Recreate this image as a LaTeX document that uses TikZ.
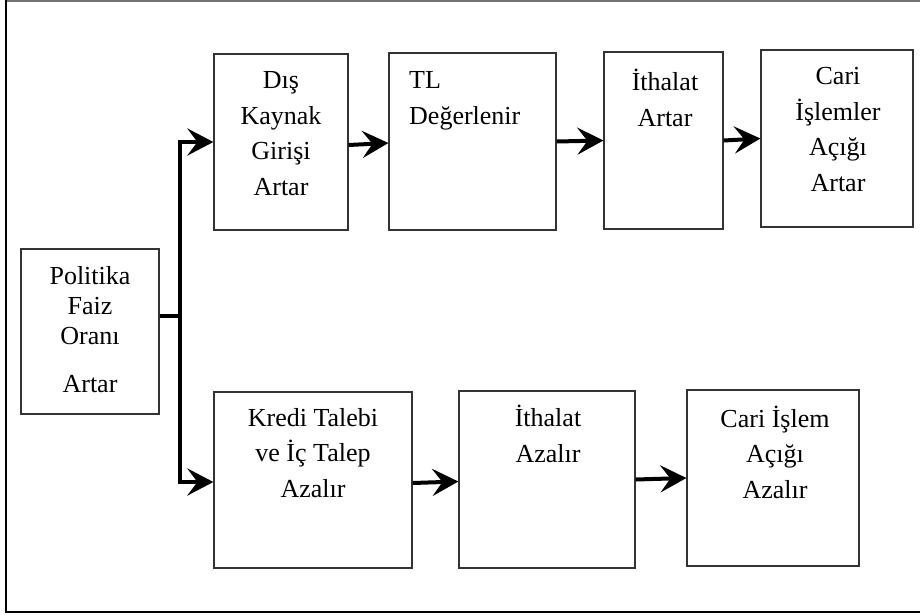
\documentclass[tikz,border=0pt]{standalone}
\usepackage{fontspec}
\setmainfont{Liberation Serif}
\usetikzlibrary{shapes,arrows.meta}

\tikzset{
  kutu/.style={draw=black!80,line width=1.2pt,inner sep=0pt},
  yazi/.style={font=\fontsize{26}{35.5}\selectfont,align=center,inner sep=0pt,anchor=base},
  ok/.style={line width=4pt,-{Stealth[length=26pt,width=27pt,inset=10pt]}}
}

\begin{document}
\begin{tikzpicture}[x=1pt,y=-1pt]
        \useasboundingbox (0,0) rectangle (920,614);
        \draw[black!55,line width=1.3pt] (920,1) -- (6,1);
        \draw[line width=2pt] (6,0) -- (6,612) -- (920,612);

        \node[kutu,minimum width=138pt,minimum height=165pt] (Pol) at (90,331.5) {};
        \node[kutu,minimum width=134pt,minimum height=176pt] (Dis) at (281,142) {};
        \node[kutu,minimum width=167pt,minimum height=177pt] (TL) at (472.5,141.5) {};
        \node[kutu,minimum width=119pt,minimum height=177pt] (IthA) at (663.5,140.5) {};
        \node[kutu,minimum width=152pt,minimum height=177pt] (CariA) at (837,138.5) {};
        \node[kutu,minimum width=198pt,minimum height=176pt] (Kredi) at (313,480) {};
        \node[kutu,minimum width=176pt,minimum height=177pt] (IthZ) at (547,479.5) {};
        \node[kutu,minimum width=172pt,minimum height=176pt] (CariZ) at (773,478) {};

        \node[yazi,font=\fontsize{26}{30}\selectfont] (PolT) at (90,392) {Politika\\Faiz\\Oranı\\[18pt]Artar};
        \node[yazi] (DisT) at (281,195) {Dış\\Kaynak\\Girişi\\Artar};
        \node[yazi,anchor=base west,align=left] (TLT) at (409,124) {TL\\Değerlenir};
        \node[yazi] (IthAT) at (665,126) {İthalat\\Artar};
        \node[yazi] (CariAT) at (838,191) {Cari\\İşlemler\\Açığı\\Artar};
        \node[yazi] (KrediT) at (313,497) {Kredi Talebi\\ve İç Talep\\Azalır};
        \node[yazi] (IthZT) at (548,462) {İthalat\\Azalır};
        \node[yazi] (CariZT) at (775,498) {Cari İşlem\\Açığı\\Azalır};

        \coordinate (J) at (180,316);
        \draw[line width=4.5pt] (Pol.east |- J) -- (J);
        \draw[ok,line width=4.5pt] (J) |- (Dis.west);
        \draw[ok,line width=4.5pt] (J) |- ([yshift=-2pt]Kredi.west);

        \draw[ok] ([yshift=-3pt]Dis.east) -- ([yshift=-1.5pt]TL.west);
        \draw[ok] (TL.east) -- (IthA.west);
        \draw[ok] (IthA.east) -- (CariA.west);
        \draw[ok] ([yshift=-3pt]Kredi.east) -- ([yshift=-2pt]IthZ.west);
        \draw[ok] (IthZ.east) -- (CariZ.west);

    \end{tikzpicture}
\end{document}
